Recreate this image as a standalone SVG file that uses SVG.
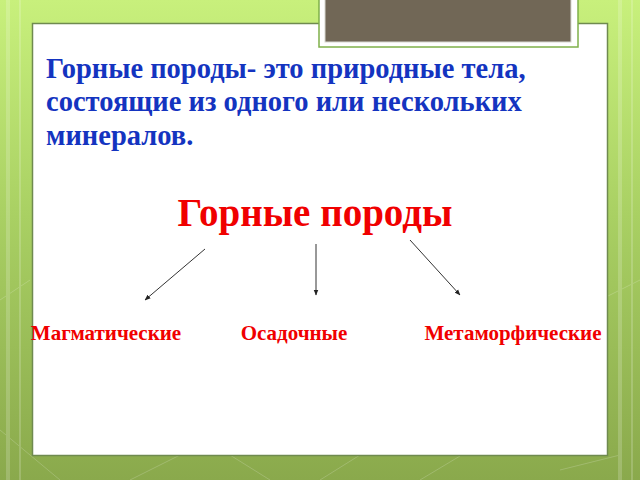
<svg xmlns="http://www.w3.org/2000/svg" width="640" height="480" viewBox="0 0 640 480">
<defs>
<linearGradient id="bg" x1="0" y1="0" x2="0" y2="1">
<stop offset="0" stop-color="#c8f07c"/>
<stop offset="0.45" stop-color="#a9d063"/>
<stop offset="1" stop-color="#8aa94c"/>
</linearGradient>
<marker id="ah" viewBox="0 0 10 10" refX="9" refY="5" markerWidth="6" markerHeight="6" orient="auto" markerUnits="userSpaceOnUse">
<path d="M0,1 L10,5 L0,9 z" fill="#222"/>
</marker>
<style>
.def{font-family:"Liberation Serif","Times New Roman",serif;font-weight:bold;fill:#1434c0;font-size:28.5px}
.red{font-family:"Liberation Serif","Times New Roman",serif;font-weight:bold;fill:#f00000}
.conn{stroke:#333;stroke-width:1;fill:none;marker-end:url(#ah)}
</style>
</defs>
<rect width="640" height="480" fill="url(#bg)"/>
<g opacity="0.18" stroke="#ffffff" fill="none">
<line x1="8" y1="0" x2="8" y2="480" stroke-width="4"/>
<line x1="20" y1="0" x2="20" y2="480" stroke-width="2"/>
<line x1="620" y1="0" x2="620" y2="480" stroke-width="4"/>
<line x1="632" y1="0" x2="632" y2="480" stroke-width="2"/>
<line x1="0" y1="300" x2="30" y2="280"/>
<line x1="0" y1="430" x2="60" y2="480"/>
<line x1="130" y1="480" x2="180" y2="455"/>
<line x1="270" y1="480" x2="230" y2="455"/>
<line x1="320" y1="480" x2="360" y2="455"/>
<line x1="420" y1="480" x2="460" y2="456"/>
<line x1="560" y1="470" x2="620" y2="455"/>
<line x1="600" y1="300" x2="640" y2="280"/>
</g>
<g id="panel">
<rect x="32.5" y="23.5" width="575" height="432" fill="#ffffff" stroke="#6f8a4f" stroke-width="1.5"/>
</g>
<g id="titlebox">
<rect x="319" y="-2" width="259" height="49" fill="#ffffff" stroke="#7fb04a" stroke-width="1.5"/>
<rect x="325" y="-2" width="246" height="44" fill="#716756" stroke="#d8d8d0" stroke-width="1"/>
</g>
<g id="definition">
<text class="def" x="46" y="78">Горные породы- это природные тела,</text>
<text class="def" x="46" y="111">состоящие из одного или нескольких</text>
<text class="def" x="46" y="145">минералов.</text>
</g>
<g id="root">
<text class="red" x="315" y="226" font-size="39" text-anchor="middle">Горные породы</text>
</g>
<g id="connectors">
<line class="conn" x1="205" y1="249" x2="145" y2="300"/>
<line class="conn" x1="316" y1="244" x2="316" y2="295"/>
<line class="conn" x1="410" y1="240" x2="460" y2="295"/>
</g>
<g id="n1"><text class="red" x="106" y="340" font-size="21" text-anchor="middle">Магматические</text></g>
<g id="n2"><text class="red" x="294" y="340" font-size="21" text-anchor="middle">Осадочные</text></g>
<g id="n3"><text class="red" x="513" y="340" font-size="21" text-anchor="middle">Метаморфические</text></g>
</svg>
